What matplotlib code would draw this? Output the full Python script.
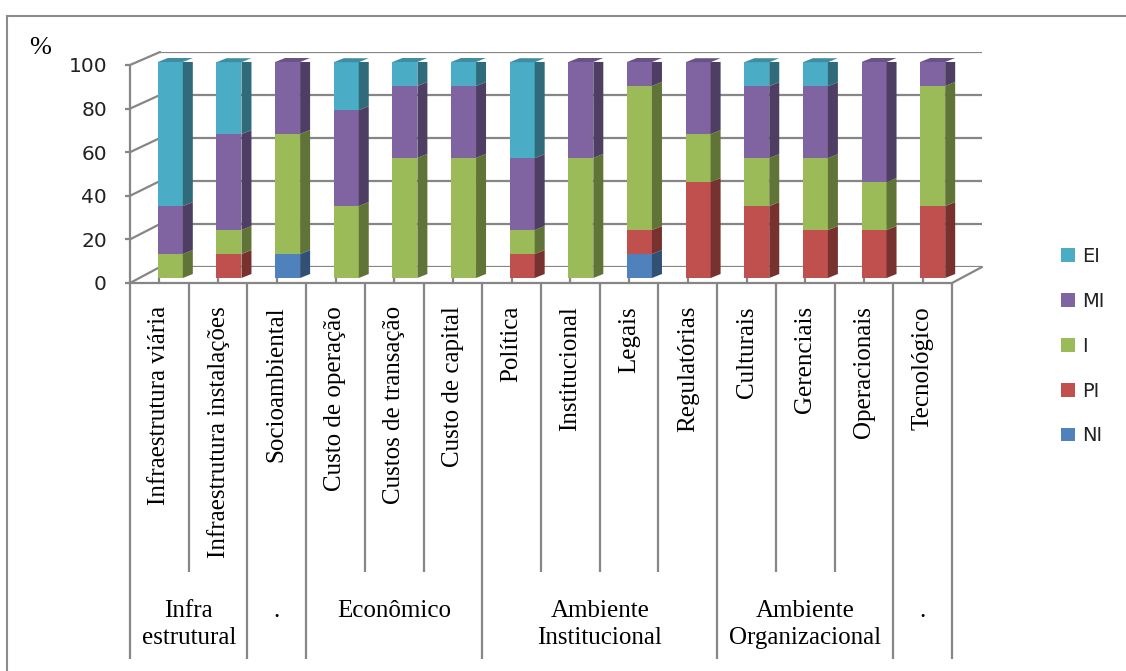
import matplotlib.pyplot as plt
import numpy as np
from matplotlib.patches import Polygon, Patch, ConnectionPatch
from matplotlib.lines import Line2D

categorias = ["Infraestrutura viária", "Infraestrutura instalações", "Socioambiental",
              "Custo de operação", "Custos de transação", "Custo de capital",
              "Política", "Institucional", "Legais", "Regulatórias",
              "Culturais", "Gerenciais", "Operacionais", "Tecnológico"]

# percentuais por nível de importância (empilhados de baixo para cima)
NI = [0, 0, 11.1, 0, 0, 0, 0, 0, 11.1, 0, 0, 0, 0, 0]
PI = [0, 11.1, 0, 0, 0, 0, 11.1, 0, 11.1, 44.4, 33.3, 22.2, 22.2, 33.3]
I = [11.1, 11.1, 55.6, 33.3, 55.6, 55.6, 11.1, 55.6, 66.7, 22.2, 22.2, 33.3, 22.2, 55.6]
MI = [22.2, 44.4, 33.3, 44.4, 33.3, 33.3, 33.3, 44.4, 11.1, 33.3, 33.3, 33.3, 55.6, 11.1]
EI = [66.7, 33.3, 0, 22.2, 11.1, 11.1, 44.4, 0, 0, 0, 11.1, 11.1, 0, 0]

grupos = ["Infra\nestrutural", ".", "Econômico", "Ambiente\nInstitucional",
          "Ambiente\nOrganizacional", "."]
tam_grupos = [2, 1, 3, 4, 3, 1]

series = [("NI", NI, "#4F81BD"), ("PI", PI, "#C0504D"), ("I", I, "#9BBB59"),
          ("MI", MI, "#8064A2"), ("EI", EI, "#4BACC6")]

W, H = 1126, 671
fig = plt.figure(figsize=(W / 100, H / 100), dpi=100)
grid_cor = "#868686"
serif = "Liberation Serif"


def px_axes(left, top, right, bottom):
    # posição de um eixo dada em pixels (origem no canto superior esquerdo)
    return [left / W, (H - bottom) / H, (right - left) / W, (bottom - top) / H]


n = len(categorias)
x = np.arange(n)

# parede do fundo
ax_back = fig.add_axes(px_axes(160, 52, 982, 267), zorder=0)
ax_back.set_xlim(-0.5, n - 0.5)
ax_back.set_ylim(0, 100)
for v in range(0, 101, 20):
    ax_back.axhline(v, color=grid_cor, lw=1.6)
ax_back.axis("off")

# plano frontal: eixo de valores e piso
ax = fig.add_axes(px_axes(130, 65, 952, 283), zorder=1)
ax.set_xlim(-0.5, n - 0.5)
ax.set_ylim(0, 100)
ax.patch.set_visible(False)
for s in ["top", "right"]:
    ax.spines[s].set_visible(False)
for s in ["left", "bottom"]:
    ax.spines[s].set_color(grid_cor)
    ax.spines[s].set_linewidth(1.6)
ax.set_yticks(range(0, 101, 20))
ax.tick_params(axis="y", length=3.6, width=1.6, color=grid_cor, pad=13,
               labelsize=14.5, labelcolor="#222222")
for lb in ax.get_yticklabels():
    lb.set_fontfamily("DejaVu Sans")

limites = np.cumsum([0] + tam_grupos) - 0.5
internos = [k - 0.5 for k in range(1, n) if (k - 0.5) not in limites]
ax.set_xticks(limites)
ax.set_xticks(internos, minor=True)
ax.set_xticklabels([])
ax.tick_params(axis="x", which="major", length=271, width=1.6, color=grid_cor, direction="out")
ax.tick_params(axis="x", which="minor", length=208, width=1.6, color=grid_cor, direction="out")
ax.vlines(x, 0, 5 / 2.18, color=grid_cor, lw=1.6)

# diagonais da parede lateral e do piso
for v in range(0, 101, 20):
    fig.add_artist(ConnectionPatch((-0.5, v), (-0.5, v), coordsA=ax.transData,
                                   coordsB=ax_back.transData, color=grid_cor, lw=1.6))
fig.add_artist(ConnectionPatch((n - 0.5, 0), (n - 0.5, 0), coordsA=ax.transData,
                               coordsB=ax_back.transData, color=grid_cor, lw=1.6))

# rótulos das categorias (verticais) e dos grupos
for i, c in enumerate(categorias):
    ax.text(i, -(306 - 283) / 2.18, c, rotation=90, ha="center", va="top",
            fontsize=18, family=serif, clip_on=False)
centros = (limites[:-1] + limites[1:]) / 2
for g, cx in zip(grupos, centros):
    ax.text(cx, -(600 - 283) / 2.18, g, ha="center", va="top", fontsize=18,
            family=serif, linespacing=1.3, clip_on=False)

# barras 3D
ax_bar = fig.add_axes(px_axes(141, 62, 962, 278), zorder=2)
ax_bar.set_xlim(-0.5, n - 0.5)
ax_bar.set_ylim(0, 100)
ax_bar.axis("off")
larg = 25 / (821 / n)
ddx = 10 / (821 / n)
ddy = 4 / 2.16


def escurece(cor, f):
    import matplotlib.colors as mc
    r, g, b = mc.to_rgb(cor)
    return (r * f, g * f, b * f)


base = np.zeros(n)
topo_cor = [None] * n
for nome, vals, cor in series:
    vals = np.array(vals, dtype=float)
    ax_bar.bar(x, vals, width=larg, bottom=base, color=cor, linewidth=0)
    for i in range(n):
        if vals[i] <= 0:
            continue
        xr = x[i] + larg / 2
        y0, y1 = base[i], base[i] + vals[i]
        ax_bar.add_patch(Polygon([(xr, y0), (xr + ddx, y0 + ddy), (xr + ddx, y1 + ddy), (xr, y1)],
                                 closed=True, facecolor=escurece(cor, 0.62), lw=0))
        topo_cor[i] = cor
    base += vals
for i in range(n):
    xl, xr, yt = x[i] - larg / 2, x[i] + larg / 2, base[i]
    ax_bar.add_patch(Polygon([(xl, yt), (xr, yt), (xr + ddx, yt + ddy), (xl + ddx, yt + ddy)],
                             closed=True, facecolor=escurece(topo_cor[i], 0.82), lw=0,
                             clip_on=False))

# legenda
handles = [Patch(facecolor=cor, edgecolor="none") for _, _, cor in series[::-1]]
nomes = [nm for nm, _, _ in series[::-1]]
leg = fig.legend(handles, nomes, loc="upper left", bbox_to_anchor=(1061 / W, (H - 247) / H),
                 frameon=False, fontsize=14, handlelength=0.7, handleheight=0.7,
                 labelspacing=1.33, handletextpad=0.4, borderpad=0, borderaxespad=0)
for t in leg.get_texts():
    t.set_color("#222222")

fig.text(40 / W, (H - 48) / H, "%", fontsize=19, family=serif, ha="center", va="center")

# moldura
fig.add_artist(Line2D([7 / W, 7 / W], [0, (H - 16) / H], color="#8c8c8c", lw=1.5))
fig.add_artist(Line2D([7 / W, 1], [(H - 16) / H, (H - 16) / H], color="#8c8c8c", lw=1.5))

fig.savefig("out.png", dpi=100)
